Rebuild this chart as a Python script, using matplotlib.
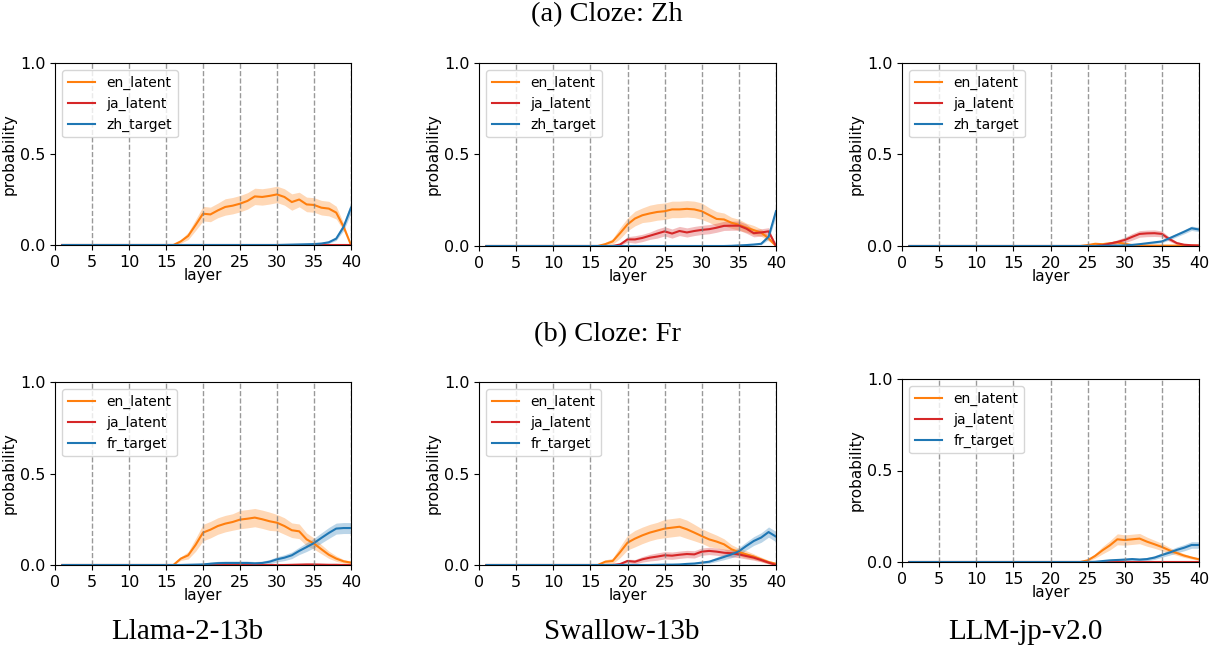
import numpy as np
import matplotlib
matplotlib.use("Agg")
import matplotlib.pyplot as plt

# layers 1..40
layers = np.arange(1, 41)

# ---- (a) Cloze: Zh ----
llama_zh_en = [0] * 15 + [0.0, 0.02, 0.05, 0.11, 0.172, 0.168, 0.19, 0.209, 0.216, 0.227, 0.242, 0.267, 0.264,
                          0.27, 0.278, 0.264, 0.236, 0.25, 0.223, 0.22, 0.205, 0.2, 0.178, 0.1, 0.0]
llama_zh_en_ci = [0] * 15 + [0, .01, .02, .03, .04, .04, .04, .045, .045, .045, .045, .045, .045, .045, .045,
                             .045, .045, .04, .04, .04, .04, .04, .035, .02, 0]
llama_zh_ja = [0] * 40
llama_zh_ja_ci = [0] * 40
llama_zh_tg = [0] * 30 + [0.001, 0.002, 0.003, 0.004, 0.005, 0.008, 0.015, 0.035, 0.10, 0.205]
llama_zh_tg_ci = [0] * 30 + [0.001, 0.001, 0.002, 0.002, 0.003, 0.004, 0.006, 0.01, 0.02, 0.03]

swallow_zh_en = [0] * 15 + [0.0, 0.01, 0.025, 0.07, 0.118, 0.15, 0.168, 0.178, 0.186, 0.19, 0.2, 0.2, 0.203,
                            0.2, 0.19, 0.169, 0.148, 0.145, 0.127, 0.116, 0.1, 0.087, 0.073, 0.042, 0.0]
swallow_zh_en_ci = [0] * 15 + [0, .01, .015, .03, .035, .04, .04, .045, .045, .045, .045, .045, .045, .045, .045,
                               .04, .04, .035, .03, .03, .025, .025, .02, .015, 0]
swallow_zh_ja = [0] * 17 + [0.0, 0.008, 0.036, 0.036, 0.044, 0.056, 0.068, 0.08, 0.068, 0.082, 0.074, 0.082,
                            0.088, 0.092, 0.1, 0.11, 0.111, 0.111, 0.095, 0.07, 0.074, 0.08, 0.0]
swallow_zh_ja_ci = [0] * 17 + [0, .005, .015, .02, .02, .02, .025, .025, .025, .025, .025, .025, .025, .025,
                               .025, .025, .025, .025, .025, .02, .02, .02, 0]
swallow_zh_tg = [0] * 33 + [0.001, 0.003, 0.005, 0.008, 0.012, 0.05, 0.19]
swallow_zh_tg_ci = [0] * 33 + [0.001, 0.002, 0.002, 0.003, 0.005, 0.015, 0.03]

llmjp_zh_en = [0] * 24 + [0.005, 0.012, 0.01, 0.015, 0.02, 0.012, 0.005, 0.003, 0.002, 0.002, 0.002, 0.002,
                          0.002, 0.002, 0.002, 0.002]
llmjp_zh_en_ci = [0] * 24 + [0.005, 0.008, 0.008, 0.008, 0.008, 0.006, 0.004, 0.002, 0.002, 0.002, 0.002, 0.002,
                             0.002, 0.002, 0.002, 0.002]
llmjp_zh_ja = [0] * 26 + [0.004, 0.013, 0.022, 0.033, 0.05, 0.066, 0.069, 0.07, 0.066, 0.038, 0.016, 0.007,
                          0.004, 0.003]
llmjp_zh_ja_ci = [0] * 26 + [0.003, 0.008, 0.012, 0.015, 0.018, 0.018, 0.018, 0.018, 0.016, 0.012, 0.008, 0.004,
                             0.003, 0.002]
llmjp_zh_tg = [0] * 26 + [0.001, 0.002, 0.002, 0.003, 0.006, 0.01, 0.015, 0.02, 0.025, 0.042, 0.06, 0.078,
                          0.097, 0.09]
llmjp_zh_tg_ci = [0] * 26 + [0.001, 0.001, 0.002, 0.002, 0.003, 0.004, 0.005, 0.006, 0.007, 0.009, 0.01, 0.011,
                             0.012, 0.012]

# ---- (b) Cloze: Fr ----
llama_fr_en = [0] * 15 + [0.0, 0.035, 0.053, 0.11, 0.177, 0.193, 0.213, 0.226, 0.235, 0.248, 0.253, 0.259, 0.25,
                          0.239, 0.231, 0.213, 0.19, 0.184, 0.14, 0.117, 0.086, 0.056, 0.035, 0.02, 0.013]
llama_fr_en_ci = [0] * 15 + [0, .01, .02, .035, .045, .045, .045, .045, .045, .05, .05, .05, .05, .05, .045,
                             .045, .04, .04, .035, .03, .025, .02, .015, .01, .008]
llama_fr_ja = [0] * 31 + [0.001, 0.002, 0.003, 0.003, 0.002, 0.001, 0.001, 0.0, 0.0]
llama_fr_ja_ci = [0] * 31 + [0.001, 0.002, 0.002, 0.002, 0.002, 0.001, 0.001, 0, 0]
llama_fr_tg = [0] * 16 + [0.0, 0.001, 0.002, 0.003, 0.007, 0.01, 0.011, 0.011, 0.011, 0.011, 0.009, 0.011, 0.018,
                          0.031, 0.04, 0.053, 0.077, 0.098, 0.12, 0.148, 0.175, 0.199, 0.202, 0.202]
llama_fr_tg_ci = [0] * 16 + [0, .003, .005, .006, .008, .01, .01, .01, .01, .01, .01, .01, .012, .014, .016,
                             .018, .02, .024, .026, .028, .03, .03, .03, .03]

swallow_fr_en = [0] * 15 + [0.0, 0.018, 0.022, 0.07, 0.122, 0.144, 0.162, 0.177, 0.188, 0.199, 0.204, 0.209,
                            0.195, 0.177, 0.158, 0.14, 0.128, 0.113, 0.086, 0.071, 0.058, 0.046, 0.031, 0.016, 0.007]
swallow_fr_en_ci = [0] * 15 + [0, .01, .015, .03, .04, .045, .045, .045, .045, .05, .05, .05, .05, .045, .04,
                               .04, .035, .03, .025, .02, .02, .015, .012, .01, .006]
swallow_fr_ja = [0] * 16 + [0.0, 0.0, 0.005, 0.022, 0.018, 0.031, 0.04, 0.046, 0.053, 0.051, 0.056, 0.06, 0.058,
                            0.073, 0.077, 0.073, 0.067, 0.064, 0.058, 0.049, 0.04, 0.027, 0.013, 0.0]
swallow_fr_ja_ci = [0] * 16 + [0, .003, .005, .01, .012, .015, .018, .02, .02, .02, .02, .02, .02, .02, .02,
                               .02, .02, .02, .018, .016, .014, .01, .007, .003]
swallow_fr_tg = [0] * 23 + [0.001, 0.002, 0.002, 0.003, 0.006, 0.008, 0.013, 0.018, 0.031, 0.044, 0.058, 0.075,
                            0.104, 0.131, 0.15, 0.18, 0.155]
swallow_fr_tg_ci = [0] * 23 + [.001, .002, .002, .003, .004, .005, .006, .008, .012, .015, .018, .02, .022, .024,
                               .026, .028, .028]

llmjp_fr_en = [0] * 23 + [0.0, 0.009, 0.033, 0.064, 0.091, 0.124, 0.12, 0.124, 0.128, 0.111, 0.097, 0.082, 0.064,
                          0.049, 0.035, 0.024, 0.015]
llmjp_fr_en_ci = [0] * 23 + [0, .005, .012, .02, .025, .03, .028, .028, .028, .025, .022, .02, .016, .012, .01,
                             .008, .006]
llmjp_fr_ja = [0] * 40
llmjp_fr_ja_ci = [0] * 40
llmjp_fr_tg = [0] * 25 + [0.001, 0.005, 0.009, 0.011, 0.013, 0.016, 0.013, 0.016, 0.024, 0.038, 0.051, 0.066,
                          0.078, 0.093, 0.093]
llmjp_fr_tg_ci = [0] * 25 + [.001, .003, .005, .007, .008, .008, .008, .009, .01, .012, .014, .016, .017, .018,
                             .018]

models = ["Llama-2-13b", "Swallow-13b", "LLM-jp-v2.0"]
row_titles = ["(a) Cloze: Zh", "(b) Cloze: Fr"]

panels = [
    [(llama_zh_en, llama_zh_en_ci, llama_zh_ja, llama_zh_ja_ci, llama_zh_tg, llama_zh_tg_ci, "zh_target"),
     (swallow_zh_en, swallow_zh_en_ci, swallow_zh_ja, swallow_zh_ja_ci, swallow_zh_tg, swallow_zh_tg_ci, "zh_target"),
     (llmjp_zh_en, llmjp_zh_en_ci, llmjp_zh_ja, llmjp_zh_ja_ci, llmjp_zh_tg, llmjp_zh_tg_ci, "zh_target")],
    [(llama_fr_en, llama_fr_en_ci, llama_fr_ja, llama_fr_ja_ci, llama_fr_tg, llama_fr_tg_ci, "fr_target"),
     (swallow_fr_en, swallow_fr_en_ci, swallow_fr_ja, swallow_fr_ja_ci, swallow_fr_tg, swallow_fr_tg_ci, "fr_target"),
     (llmjp_fr_en, llmjp_fr_en_ci, llmjp_fr_ja, llmjp_fr_ja_ci, llmjp_fr_tg, llmjp_fr_tg_ci, "fr_target")],
]

# axes boxes in pixels (left, top, right, bottom) on a 1214x650 canvas
W, H = 1214, 650
boxes = [
    [(55, 63, 351, 245), (479, 63, 776, 246), (902, 63, 1199, 246)],
    [(55, 382, 351, 565), (479, 382, 776, 565), (902, 379, 1199, 562)],
]

plt.rcParams['font.size'] = 10
fig = plt.figure(figsize=(12.14, 6.5), dpi=100)

colors = ["tab:orange", "tab:red", "tab:blue"]

for r in range(2):
    for c in range(3):
        l, t, rr, b = boxes[r][c]
        ax = fig.add_axes([l / W, 1 - b / H, (rr - l) / W, (b - t) / H])
        en, en_ci, ja, ja_ci, tg, tg_ci, tg_name = panels[r][c]
        series = [(en, en_ci, "en_latent"), (ja, ja_ci, "ja_latent"), (tg, tg_ci, tg_name)]
        for (vals, ci, name), col in zip(series, colors):
            vals = np.array(vals, dtype=float)
            ci = np.array(ci, dtype=float)
            ax.plot(layers, vals, color=col, lw=1.5, label=name)
            ax.fill_between(layers, np.clip(vals - ci, 0, None), vals + ci, color=col, alpha=0.3, lw=0)
        for xv in range(5, 45, 5):
            ax.axvline(xv, color="gray", ls="--", lw=1, alpha=0.8)
        ax.set_xlim(0, 40)
        ax.set_ylim(0, 1)
        ax.set_xticks(range(0, 45, 5))
        ax.set_yticks([0, 0.5, 1.0])
        ax.tick_params(labelsize=11.5)
        ax.set_xlabel("layer", fontsize=11, labelpad=-1)
        ax.set_ylabel("probability", fontsize=11, labelpad=2)
        ax.legend(loc="upper left", fontsize=10)

fig.text(0.5, 1 - 15 / H, row_titles[0], ha="center", va="center", family="Liberation Serif", fontsize=20.5)
fig.text(0.5, 1 - 335 / H, row_titles[1], ha="center", va="center", family="Liberation Serif", fontsize=20.5)
for x, name in zip([187, 622, 1025], models):
    fig.text(x / W, 1 - 632 / H, name, ha="center", va="center", family="Liberation Serif", fontsize=21)

fig.savefig("out.png", dpi=100)
